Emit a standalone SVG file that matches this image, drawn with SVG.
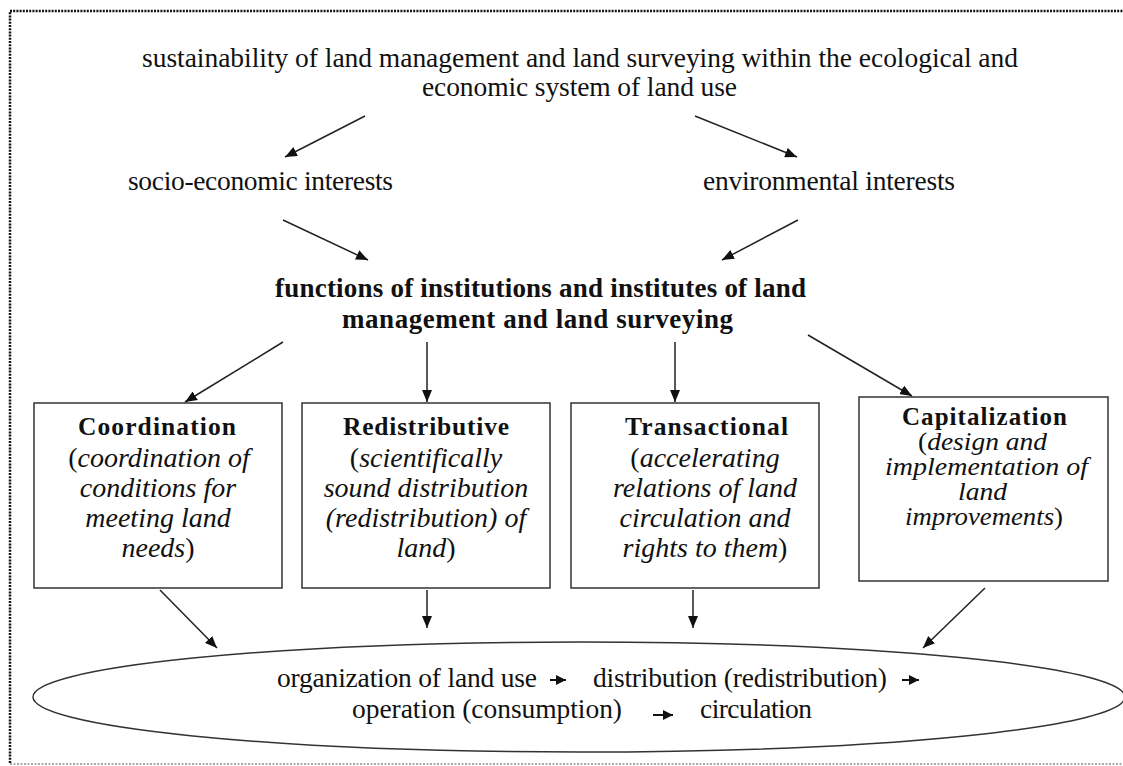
<svg xmlns="http://www.w3.org/2000/svg" width="1123" height="766" viewBox="0 0 1123 766">
<defs>
<marker id="ah" viewBox="0 0 12 10" refX="12" refY="5" markerWidth="12" markerHeight="10" markerUnits="userSpaceOnUse" orient="auto">
<path d="M0,0 L12,5 L0,10 z" fill="#111"/>
</marker>
<marker id="ahs" viewBox="0 0 10 10" refX="10" refY="5" markerWidth="10" markerHeight="10" markerUnits="userSpaceOnUse" orient="auto">
<path d="M0,0 L10,5 L0,10 z" fill="#111"/>
</marker>
</defs>
<style>
.t{font-size:27.5px;}
.b{font-size:27px;font-weight:bold;}
.h{font-size:25.5px;font-weight:bold;}
.h4{font-size:25px;font-weight:bold;}
.i{font-size:28px;font-style:italic;}
.i4{font-size:25px;font-style:italic;}
.n{font-style:normal;}
.box{fill:#fff;stroke:#333;stroke-width:1.5;}
.con line{stroke:#222;stroke-width:1.5;marker-end:url(#ah);}
.sa{stroke:#111;stroke-width:2;marker-end:url(#ahs);}
</style>
<rect width="1123" height="766" fill="#fff"/>
<g id="frame">
<path d="M10,763 V11 H1123" fill="none" stroke="#111" stroke-width="2.5" stroke-dasharray="2 1.2"/>
<path d="M10,764 H1123" fill="none" stroke="#555" stroke-width="1" stroke-dasharray="2 1.5"/>
</g>
<g font-family="'Liberation Serif', Tinos, 'Times New Roman', 'DejaVu Serif', serif" fill="#111">
<g id="title">
<text class="t" x="142" y="67" textLength="876" lengthAdjust="spacing">sustainability of land management and land surveying within the ecological and</text>
<text class="t" x="422" y="96" textLength="315" lengthAdjust="spacing">economic system of land use</text>
</g>
<g id="socio">
<text class="t" x="128" y="190" textLength="265" lengthAdjust="spacing">socio-economic interests</text>
</g>
<g id="environmental">
<text class="t" x="703" y="190" textLength="252" lengthAdjust="spacing">environmental interests</text>
</g>
<g id="functions">
<text class="b" x="275" y="297" textLength="531" lengthAdjust="spacing">functions of institutions and institutes of land</text>
<text class="b" x="342" y="328" textLength="391" lengthAdjust="spacing">management and land surveying</text>
</g>
<g id="coordination">
<rect class="box" x="34" y="403" width="248" height="185"/>
<text class="h" x="78" y="435" textLength="158" lengthAdjust="spacing">Coordination</text>
<text class="i" text-anchor="middle" x="159" y="467"><tspan class="n">(</tspan>coordination of</text>
<text class="i" text-anchor="middle" x="158" y="497">conditions for</text>
<text class="i" text-anchor="middle" x="158" y="527">meeting land</text>
<text class="i" text-anchor="middle" x="158" y="557">needs<tspan class="n">)</tspan></text>
</g>
<g id="redistributive">
<rect class="box" x="302" y="403" width="248" height="185"/>
<text class="h" x="343" y="435" textLength="166" lengthAdjust="spacing">Redistributive</text>
<text class="i" text-anchor="middle" x="426" y="467"><tspan class="n">(</tspan>scientifically</text>
<text class="i" text-anchor="middle" x="426" y="497">sound distribution</text>
<text class="i" text-anchor="middle" x="426" y="527">(redistribution) of</text>
<text class="i" text-anchor="middle" x="426" y="557">land<tspan class="n">)</tspan></text>
</g>
<g id="transactional">
<rect class="box" x="571" y="403" width="248" height="185"/>
<text class="h" x="625" y="435" textLength="163" lengthAdjust="spacing">Transactional</text>
<text class="i" text-anchor="middle" x="705" y="467"><tspan class="n">(</tspan>accelerating</text>
<text class="i" text-anchor="middle" x="705" y="497">relations of land</text>
<text class="i" text-anchor="middle" x="705" y="527">circulation and</text>
<text class="i" text-anchor="middle" x="705" y="557">rights to them<tspan class="n">)</tspan></text>
</g>
<g id="capitalization">
<rect class="box" x="859" y="397" width="249" height="184"/>
<text class="h4" x="902" y="425" textLength="165" lengthAdjust="spacing">Capitalization</text>
<text class="i4" x="918" y="450" textLength="129" lengthAdjust="spacingAndGlyphs"><tspan class="n">(</tspan>design and</text>
<text class="i4" x="885" y="475" textLength="203" lengthAdjust="spacingAndGlyphs">implementation of</text>
<text class="i4" x="958" y="500" textLength="49" lengthAdjust="spacingAndGlyphs">land</text>
<text class="i4" x="905" y="525" textLength="158" lengthAdjust="spacingAndGlyphs">improvements<tspan class="n">)</tspan></text>
</g>
<g id="processes">
<ellipse cx="579" cy="697" rx="546" ry="55" fill="#fff" stroke="#333" stroke-width="1.5"/>
<text class="t" x="277" y="687" textLength="260" lengthAdjust="spacing">organization of land use</text>
<path class="sa" d="M550,680 H566"/>
<text class="t" x="593" y="687" textLength="294" lengthAdjust="spacing">distribution (redistribution)</text>
<path class="sa" d="M902,680 H919"/>
<text class="t" x="352" y="718" textLength="270" lengthAdjust="spacing">operation (consumption)</text>
<path class="sa" d="M653,715 H673"/>
<text class="t" x="700" y="718" textLength="112" lengthAdjust="spacing">circulation</text>
</g>
</g>
<g id="connectors" class="con">
<line x1="365" y1="116" x2="285" y2="157"/>
<line x1="695" y1="116" x2="797" y2="157"/>
<line x1="283" y1="220" x2="368" y2="260"/>
<line x1="798" y1="220" x2="722" y2="260"/>
<line x1="283" y1="342" x2="185" y2="402"/>
<line x1="427" y1="342" x2="427" y2="402"/>
<line x1="675" y1="342" x2="675" y2="402"/>
<line x1="808" y1="335" x2="912" y2="396"/>
<line x1="160" y1="590" x2="217" y2="648"/>
<line x1="427" y1="590" x2="427" y2="628"/>
<line x1="693" y1="590" x2="693" y2="628"/>
<line x1="985" y1="588" x2="923" y2="648"/>
</g>
</svg>
